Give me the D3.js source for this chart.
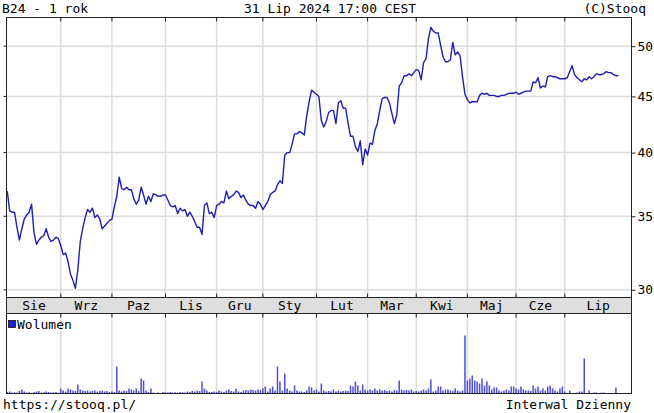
<!DOCTYPE html>
<html><head><meta charset="utf-8">
<script src="https://cdn.jsdelivr.net/npm/d3@7"></script>
<style>
body{margin:0;background:#fff}
svg{display:block}
text{font-family:"DejaVu Sans Mono",monospace;font-size:13px;fill:#000}
</style>
</head><body><svg id="c" width="654" height="413"></svg>
<script>
const titleText = "B24 - 1 rok";
const stampText = "31 Lip 2024 17:00 CEST";
const copyText = "(C)Stooq";
const urlText = "https://stooq.pl/";
const intervalText = "Interwal Dzienny";
const volLabel = "Wolumen";
const monthNames = ["Sie","Wrz","Paz","Lis","Gru","Sty","Lut","Mar","Kwi","Maj","Cze","Lip"];
const priceTicks = [30, 35, 40, 45, 50];
const holidays = ["2023-08-15","2023-11-01","2023-12-25","2023-12-26","2024-01-01","2024-03-29","2024-04-01","2024-05-01","2024-05-03","2024-05-30"];

const close = [
// Aug
36.9,35.4,35.3,35.3,34.2,33.3,34.1,34.8,35.1,35.3,35.9,33.8,33.0,33.3,33.5,33.6,34.1,33.5,33.2,33.3,33.5,33.4,
// Sep
32.9,32.3,32.4,31.8,31.0,30.6,30.1,31.3,33.2,34.1,34.9,35.5,35.3,35.6,34.9,35.1,34.8,34.1,34.3,34.5,34.7,
// Oct
34.8,35.7,36.5,38.0,37.1,37.0,37.2,37.0,37.0,36.3,35.9,36.2,37.2,36.6,35.9,36.5,36.1,36.7,36.6,36.5,36.5,36.6,
// Nov
36.6,36.2,35.8,35.7,35.8,35.2,35.6,35.4,35.5,35.0,35.3,35.0,34.6,34.2,34.2,33.7,35.8,36.0,35.2,35.3,34.9,
// Dec
35.8,35.9,36.1,36.0,36.9,36.3,36.5,36.6,36.9,36.8,36.4,36.6,36.2,35.9,35.8,35.8,35.6,36.1,35.9,
// Jan
35.5,35.8,36.1,36.6,36.8,36.9,37.4,37.7,37.5,39.8,40.0,40.0,40.7,41.6,41.6,41.8,41.7,41.5,43.2,44.5,45.6,45.4,
// Feb
45.2,45.0,42.8,42.2,42.7,43.5,43.7,43.7,42.5,44.4,44.6,43.9,43.9,42.5,41.4,41.4,40.5,40.1,41.0,39.0,40.3,
// Mar
39.8,40.8,40.7,41.9,42.5,43.7,44.8,44.9,44.9,44.4,43.4,42.5,43.3,46.0,46.3,47.0,47.0,47.2,47.0,47.3,
// Apr
47.6,47.5,46.6,48.3,48.7,50.8,52.0,51.6,51.4,51.4,50.1,48.9,48.4,48.4,48.6,50.4,49.1,49.4,49.0,46.9,45.2,
// May
44.7,44.4,44.5,44.5,44.5,45.1,45.3,45.2,45.3,45.1,45.1,45.1,45.0,45.0,45.1,45.1,45.2,45.3,45.3,45.3,
// Jun
45.4,45.2,45.3,45.4,45.5,45.5,45.5,46.4,46.3,46.8,45.8,46.0,45.9,46.9,47.0,46.9,46.9,46.8,46.7,46.7,
// Jul
46.7,46.8,47.4,48.0,47.1,46.8,46.6,46.4,46.7,46.6,46.9,46.7,46.9,47.2,47.1,47.1,47.2,47.4,47.3,47.3,47.1,47.0,47.0
];

const volume = [
// Aug
150,200,100,120,100,250,400,200,100,120,0,150,200,250,100,120,200,150,100,120,150,80,
// Sep
500,300,200,500,400,300,250,900,400,300,250,300,200,250,300,200,250,300,200,250,150,
// Oct
200,150,2700,300,200,300,250,500,400,300,500,250,1500,1300,300,150,500,100,0,100,0,150,
// Nov
120,100,150,100,120,80,150,120,100,200,150,250,200,300,250,1200,500,300,150,150,200,
// Dec
150,300,200,150,300,400,250,200,500,200,150,300,350,300,400,350,300,400,350,
// Jan
500,700,200,500,700,300,2700,1200,300,2000,500,300,200,800,300,200,200,150,300,700,600,300,
// Feb
400,200,1000,300,200,250,200,400,200,300,200,250,300,250,800,700,1200,800,300,900,400,
// Mar
300,400,300,500,300,400,300,350,250,300,200,350,300,1300,400,300,350,300,400,200,
// Apr
250,200,300,400,300,500,1400,200,300,700,700,300,400,400,300,250,500,300,200,300,5800,
// May
1300,1500,1800,1300,1200,1000,1500,800,1200,800,400,600,600,300,200,300,400,300,700,700,
// Jun
500,400,700,400,300,300,250,800,500,700,300,500,300,700,800,500,300,200,500,700,
// Jul
200,0,300,0,0,100,200,200,3500,0,300,0,100,100,0,100,100,0,0,0,0,600,0
];

// trading calendar
const fmt = d3.timeFormat("%Y-%m-%d");
const dates = [];
for (let d = new Date(2023,7,1); d <= new Date(2024,6,31); d.setDate(d.getDate()+1)) {
  const w = d.getDay();
  if (w > 0 && w < 6 && !holidays.includes(fmt(d))) dates.push(new Date(d));
}
const data = dates.map((d,i) => ({i, date:d, close:close[i], volume:volume[i]})).filter(d => d.close !== undefined);

const svg = d3.select("#c");
const L = 6.5, R = 631.5, T = 17.5, PB = 297.5, BB = 313.5, VB = 393.5;

const x = d3.scaleLinear().domain([-0.3, 256.4]).range([L, R]);
const y = d3.scaleLog().domain([29.52, 53.1]).range([PB, T]);
const yv = d3.scaleLinear().domain([0, 8000]).range([VB, BB]);

// month boundaries
const mStarts = [];
dates.forEach((d,i) => { if (i === 0 || d.getMonth() !== dates[i-1].getMonth()) mStarts.push(i); });
const bounds = mStarts.map(i => x(i));
const ends = bounds.slice(1).concat([R]);

// band
svg.append("rect").attr("x", L).attr("y", PB).attr("width", R-L).attr("height", BB-PB).attr("fill", "#dedede");

// grid
const grid = svg.append("g").attr("stroke", "#dcdcdc").attr("stroke-width", 1.5);
bounds.slice(1).forEach(bx => {
  grid.append("line").attr("x1", bx).attr("x2", bx).attr("y1", T).attr("y2", PB);
  grid.append("line").attr("x1", bx).attr("x2", bx).attr("y1", BB).attr("y2", VB);
});
priceTicks.forEach(t => {
  grid.append("line").attr("x1", L).attr("x2", R).attr("y1", y(t)).attr("y2", y(t));
});

// volume bars
svg.append("g").selectAll("rect").data(data.filter(d => d.volume > 0)).join("rect")
  .attr("x", d => x(d.i) - 0.75).attr("width", 1.5)
  .attr("y", d => yv(d.volume)).attr("height", d => VB - yv(d.volume))
  .attr("fill", "#4d4de0");

// price line
svg.append("path").datum(data)
  .attr("d", d3.line().x(d => x(d.i)).y(d => y(d.close)))
  .attr("fill", "none").attr("stroke", "#1e1eb4").attr("stroke-width", 1.4).attr("stroke-linejoin", "round");

// frames
const fr = svg.append("g").attr("stroke", "#222").attr("stroke-width", 1).attr("fill", "none");
fr.append("rect").attr("x", L).attr("y", T).attr("width", R-L).attr("height", VB-T);
fr.append("line").attr("x1", L).attr("x2", R).attr("y1", PB).attr("y2", PB);
fr.append("line").attr("x1", L).attr("x2", R).attr("y1", BB).attr("y2", BB);

// month ticks
bounds.slice(1).forEach(bx => {
  fr.append("line").attr("x1", bx).attr("x2", bx).attr("y1", T).attr("y2", T+4);
  fr.append("line").attr("x1", bx).attr("x2", bx).attr("y1", PB-4).attr("y2", PB);
  fr.append("line").attr("x1", bx).attr("x2", bx).attr("y1", BB).attr("y2", BB+4);
});

// price axis (right)
const yAxis = d3.axisRight(y).tickValues(priceTicks).tickSize(4).tickPadding(2).tickFormat(d3.format("d"));
const ga = svg.append("g").attr("transform", `translate(${R},0)`).call(yAxis);
ga.select(".domain").remove();
ga.selectAll("line").attr("stroke", "#222");
ga.selectAll("text").attr("font-family", "DejaVu Sans Mono").attr("font-size", 13).attr("fill", "#000");
priceTicks.forEach(t => fr.append("line").attr("x1", L-3).attr("x2", L).attr("y1", y(t)).attr("y2", y(t)));

// month labels
monthNames.forEach((m,k) => {
  svg.append("text").attr("x", (bounds[k] + ends[k]) / 2).attr("y", 310).attr("text-anchor", "middle").text(m);
});

// header & footer
svg.append("text").attr("x", 2).attr("y", 13).text(titleText);
svg.append("text").attr("x", 330).attr("y", 13).attr("text-anchor", "middle").text(stampText);
svg.append("text").attr("x", 646).attr("y", 13).attr("text-anchor", "end").text(copyText);
svg.append("text").attr("x", 3).attr("y", 409).text(urlText);
svg.append("text").attr("x", 631).attr("y", 409).attr("text-anchor", "end").text(intervalText);

// legend
svg.append("rect").attr("x", 8.5).attr("y", 320.5).attr("width", 7).attr("height", 7).attr("fill", "#2020d0").attr("stroke", "#111").attr("stroke-width", 0.8);
svg.append("text").attr("x", 17).attr("y", 329).text(volLabel);
</script>
</body></html>
